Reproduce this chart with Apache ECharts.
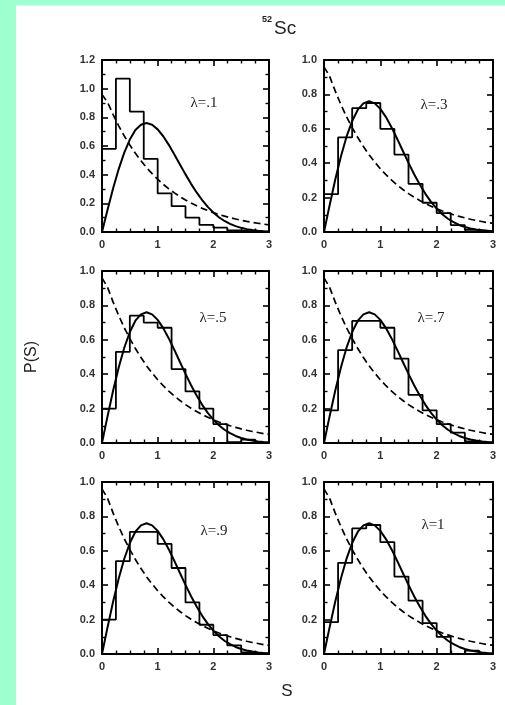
<!DOCTYPE html>
<html>
<head>
<meta charset="utf-8">
<script src="https://cdn.jsdelivr.net/npm/echarts@6/dist/echarts.min.js"></script>
<style>
  html, body { margin: 0; padding: 0; background: #9effcf; }
  #chart { position: absolute; left: 16px; top: 5px; width: 489px; height: 700px; background: #fff; }
</style>
</head>
<body>
<div id="chart"></div>
<script>
// bin width of the level-spacing histograms
const binWidth = 0.25

const lambdaLabels = ['λ=.1', 'λ=.3', 'λ=.5', 'λ=.7', 'λ=.9', 'λ=1']

// histogram heights, one per bin starting at S = 0
const hist01 = [0.58, 1.07, 0.84, 0.51, 0.27, 0.18, 0.10, 0.05, 0.03, 0.012, 0.005, 0.002]
const hist03 = [0.22, 0.55, 0.72, 0.75, 0.60, 0.45, 0.28, 0.17, 0.11, 0.04, 0.012, 0.005]
const hist05 = [0.20, 0.53, 0.74, 0.70, 0.67, 0.43, 0.30, 0.20, 0.11, 0.005, 0.02, 0]
const hist07 = [0.19, 0.54, 0.71, 0.71, 0.67, 0.49, 0.28, 0.19, 0.11, 0.06, 0.01, 0]
const hist09 = [0.20, 0.54, 0.71, 0.71, 0.64, 0.50, 0.30, 0.17, 0.11, 0.05, 0.01, 0]
const hist10 = [0.185, 0.53, 0.73, 0.75, 0.65, 0.45, 0.31, 0.18, 0.10, 0, 0.02, 0]
const histograms = [hist01, hist03, hist05, hist07, hist09, hist10]

// reference curves, read at S = 0, 0.1, ... 3.0
const curveS = [0, 0.1, 0.2, 0.3, 0.4, 0.5, 0.6, 0.7, 0.8, 0.9, 1.0, 1.1, 1.2, 1.3, 1.4, 1.5,
  1.6, 1.7, 1.8, 1.9, 2.0, 2.1, 2.2, 2.3, 2.4, 2.5, 2.6, 2.7, 2.8, 2.9, 3.0]
const wignerP = [0, 0.156, 0.305, 0.439, 0.554, 0.645, 0.711, 0.748, 0.760, 0.748, 0.716, 0.668,
  0.608, 0.541, 0.471, 0.402, 0.336, 0.276, 0.222, 0.175, 0.136, 0.103, 0.077, 0.057, 0.041,
  0.029, 0.020, 0.014, 0.009, 0.006, 0.004]
const poissonP = [0.96, 0.905, 0.819, 0.741, 0.670, 0.607, 0.549, 0.497, 0.449, 0.407, 0.368,
  0.333, 0.301, 0.273, 0.247, 0.223, 0.202, 0.183, 0.165, 0.150, 0.135, 0.122, 0.111, 0.100,
  0.091, 0.082, 0.074, 0.067, 0.061, 0.055, 0.050]

const yMaxes = [1.2, 1.0, 1.0, 1.0, 1.0, 1.0]

// layout of the 3x2 panels (px, inside the white sheet)
const colLeft = [86, 308]
const colWidth = [167, 169]
const rowTop = [55, 266, 477]
const rowHeight = 172
const labelPos = [[188, 98], [418, 100], [197, 313], [415, 313], [198, 526], [417, 520]]

const labelFont = { fontSize: 11, color: '#333', fontWeight: 'bold', fontFamily: 'Liberation Sans' }

function stepPoints(h) {
  const pts = [[0, 0]]
  h.forEach((v, i) => pts.push([i * binWidth, v]))
  pts.push([h.length * binWidth, h[h.length - 1]])
  return pts
}

function xAxis(i, pos) {
  return {
    gridIndex: i,
    type: 'value',
    position: pos,
    min: 0,
    max: 3,
    interval: 1,
    axisLine: { show: true, onZero: false, lineStyle: { color: '#000', width: 2 } },
    axisTick: { show: true, inside: true, length: 6, lineStyle: { color: '#000', width: 1.6 } },
    minorTick: { show: true, splitNumber: 4, length: 3.5, lineStyle: { color: '#000', width: 1.4 } },
    splitLine: { show: false },
    axisLabel: { show: pos === 'bottom', margin: 7, ...labelFont }
  }
}

function yAxis(i, pos, max) {
  return {
    gridIndex: i,
    type: 'value',
    position: pos,
    min: 0,
    max: max,
    interval: 0.2,
    axisLine: { show: true, onZero: false, lineStyle: { color: '#000', width: 2 } },
    axisTick: { show: true, inside: true, length: 6, lineStyle: { color: '#000', width: 1.6 } },
    minorTick: { show: true, splitNumber: 2, length: 3.5, lineStyle: { color: '#000', width: 1.4 } },
    splitLine: { show: false },
    axisLabel: { show: pos === 'left', margin: 7, formatter: v => v.toFixed(1), ...labelFont }
  }
}

const grids = []
const xAxes = []
const yAxes = []
const series = []
const graphics = []

histograms.forEach((h, i) => {
  const col = i % 2
  const row = Math.floor(i / 2)
  grids.push({ left: colLeft[col], top: rowTop[row], width: colWidth[col], height: rowHeight })
  xAxes.push(xAxis(i, 'bottom'), xAxis(i, 'top'))
  yAxes.push(yAxis(i, 'left', yMaxes[i]), yAxis(i, 'right', yMaxes[i]))

  const xi = 2 * i
  series.push({
    type: 'line', xAxisIndex: xi, yAxisIndex: xi, step: 'end', symbol: 'none',
    data: stepPoints(h), lineStyle: { color: '#000', width: 1.8 }
  })
  series.push({
    type: 'line', xAxisIndex: xi, yAxisIndex: xi, symbol: 'none',
    data: curveS.map((s, k) => [s, wignerP[k]]), lineStyle: { color: '#000', width: 2 }
  })
  series.push({
    type: 'line', xAxisIndex: xi, yAxisIndex: xi, symbol: 'none',
    data: curveS.map((s, k) => [s, poissonP[k]]),
    lineStyle: { color: '#000', width: 1.7, type: [7, 4] }
  })

  graphics.push({
    type: 'text', x: labelPos[i][0], y: labelPos[i][1],
    style: { text: lambdaLabels[i], font: '15px "Liberation Serif"', fill: '#222', align: 'center', verticalAlign: 'middle' }
  })
})

graphics.push(
  { type: 'text', x: 246, y: 10, style: { text: '52', font: 'bold 9px "Liberation Sans"', fill: '#222' } },
  { type: 'text', x: 258, y: 14, style: { text: 'Sc', font: '19px "Liberation Sans"', fill: '#222' } },
  { type: 'text', x: 271, y: 686, style: { text: 'S', font: '17px "Liberation Sans"', fill: '#222', align: 'center', verticalAlign: 'middle' } },
  { type: 'text', x: 16, y: 352, rotation: Math.PI / 2,
    style: { text: 'P(S)', font: '16px "Liberation Sans"', fill: '#222', align: 'center', verticalAlign: 'middle' } }
)

const chart = echarts.init(document.getElementById('chart'))
chart.setOption({
  animation: false,
  backgroundColor: '#fff',
  grid: grids,
  xAxis: xAxes,
  yAxis: yAxes,
  series: series,
  graphic: graphics
})
</script>
</body>
</html>
